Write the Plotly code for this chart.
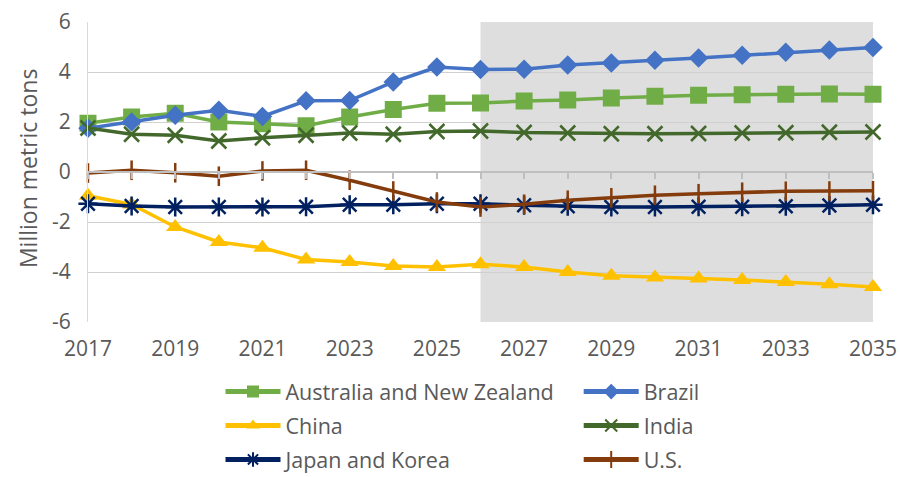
import plotly.graph_objects as go

years = list(range(2017, 2036))

anz = [1.95, 2.2, 2.35, 2.0, 1.93, 1.85, 2.2, 2.5, 2.75, 2.76, 2.84, 2.88, 2.96, 3.03, 3.07, 3.09, 3.11, 3.12, 3.11]
brazil = [1.75, 2.0, 2.27, 2.47, 2.22, 2.85, 2.86, 3.6, 4.2, 4.1, 4.11, 4.28, 4.36, 4.47, 4.56, 4.67, 4.79, 4.88, 4.98]
china = [-0.95, -1.3, -2.2, -2.8, -3.03, -3.5, -3.6, -3.76, -3.8, -3.69, -3.8, -4.0, -4.15, -4.22, -4.26, -4.32, -4.4, -4.49, -4.6]
india = [1.76, 1.51, 1.47, 1.24, 1.37, 1.47, 1.56, 1.51, 1.62, 1.64, 1.58, 1.56, 1.53, 1.53, 1.54, 1.56, 1.57, 1.59, 1.6]
japan_korea = [-1.27, -1.36, -1.4, -1.4, -1.4, -1.39, -1.31, -1.31, -1.27, -1.27, -1.33, -1.37, -1.4, -1.4, -1.39, -1.39, -1.37, -1.34, -1.31]
us = [-0.04, 0.07, -0.03, -0.17, 0.04, 0.07, -0.33, -0.76, -1.2, -1.4, -1.29, -1.13, -1.03, -0.93, -0.87, -0.81, -0.77, -0.76, -0.75]

# (name, values, colour, symbol, size, legend column)
series = [
    ("Australia and New Zealand", anz, "#70AD47", "square", 17, "legend"),
    ("Brazil", brazil, "#4472C4", "diamond", 15, "legend2"),
    ("China", china, "#FFC000", "triangle-up", 16, "legend"),
    ("India", india, "#43682B", "x-thin", 15, "legend2"),
    ("Japan and Korea", japan_korea, "#002060", "asterisk", 16, "legend"),
    ("U.S.", us, "#843C0C", "line-ns", 14, "legend2"),
]

x_tick_vals = list(range(2017, 2036, 2))
y_tick_vals = [-6, -4, -2, 0, 2, 4, 6]
y_tick_text = ["-6", "-4", "-2", "0", "2", "4", "6"]
y_title = "Million metric tons"
forecast_start = 2026

fig = go.Figure()
for name, vals, color, sym, size, leg in series:
    open_sym = sym in ("x-thin", "asterisk", "line-ns")
    fig.add_trace(go.Scatter(
        x=years, y=vals, name=name, mode="lines+markers",
        line=dict(color=color, width=3.5),
        marker=dict(symbol=sym, size=size, color=color,
                    line=dict(color=color, width=2.5 if open_sym else 0)),
        cliponaxis=False, legend=leg, legendgroup=name,
    ))

fig.add_shape(type="rect", xref="x", yref="paper", x0=forecast_start, x1=years[-1],
              y0=0, y1=1, fillcolor="#dedede", line_width=0, layer="below")

font = "Open Sans, Arial, sans-serif"
legend_common = dict(orientation="v", xref="container", yref="container", yanchor="top",
                     xanchor="left", y=0.222, itemwidth=55, tracegroupgap=3,
                     itemsizing="constant",
                     font=dict(size=21.5, color="#595959"), bgcolor="rgba(0,0,0,0)")
fig.update_layout(
    width=900, height=477,
    margin=dict(l=88, r=27, t=22, b=155, autoexpand=False),
    paper_bgcolor="white", plot_bgcolor="white",
    font=dict(family=font, size=21, color="#595959"),
    xaxis=dict(range=[years[0], years[-1]], tickvals=x_tick_vals, showgrid=False,
               zeroline=False, showline=False, ticks="", ticklabelstandoff=12,
               tickfont=dict(size=21, color="#595959")),
    xaxis2=dict(range=[years[0], years[-1]], overlaying="x", anchor="free", position=0.5,
                side="bottom", showline=True, linecolor="#bfbfbf", linewidth=2,
                ticks="outside", dtick=1, tick0=2017, ticklen=6, tickwidth=2, tickcolor="#bfbfbf",
                showticklabels=False, showgrid=False, zeroline=False),
    yaxis=dict(range=[-6, 6], tickvals=y_tick_vals, ticktext=y_tick_text,
               showgrid=True, gridcolor="#d0d0d0", gridwidth=1.3,
               zeroline=False, showline=True, linecolor="#d9d9d9", linewidth=1.3,
               ticks="", ticklabelstandoff=12,
               tickfont=dict(size=21, color="#595959")),
    legend=dict(x=0.245, **legend_common),
    legend2=dict(x=0.643, **legend_common),
    annotations=[dict(text=y_title, xref="paper", yref="paper", x=-60 / 785, y=0.513,
                      xanchor="center", yanchor="middle", textangle=-90, showarrow=False,
                      font=dict(size=23, color="#595959"))],
)
fig.add_trace(go.Scatter(x=[years[0]], y=[0], xaxis="x2", mode="markers",
                         marker=dict(opacity=0), showlegend=False, hoverinfo="skip"))

fig.write_html("out.html")
